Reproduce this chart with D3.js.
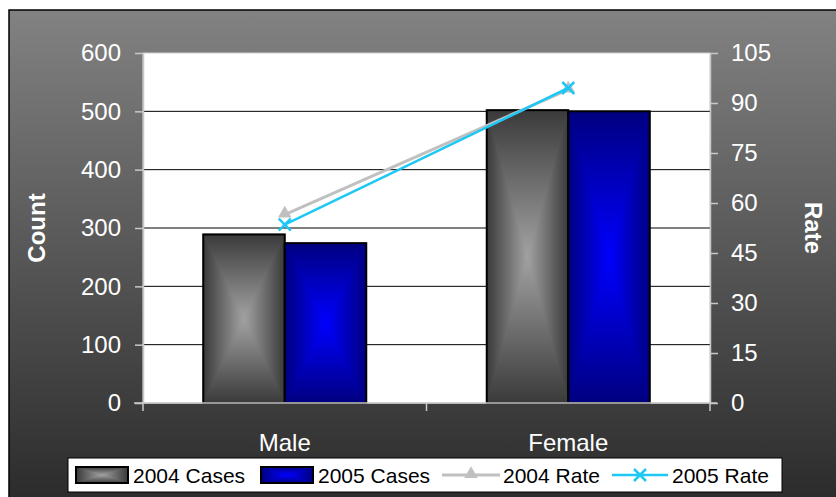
<!DOCTYPE html>
<html>
<head>
<meta charset="utf-8">
<script src="https://cdn.jsdelivr.net/npm/d3@7/dist/d3.min.js"></script>
<style>
  html, body { margin: 0; padding: 0; background: #ffffff; }
  svg { display: block; font-family: "Liberation Sans", Arial, sans-serif; }
</style>
</head>
<body>
<svg id="chart" width="836" height="497"></svg>
<script>
// Cases and rates by sex, 2004 vs 2005
const categories = ["Male", "Female"];
const cases2004 = [289, 502];
const cases2005 = [274, 500];
const rate2004 = [56.5, 94.0];
const rate2005 = [53.5, 94.5];
const countTicks = [0, 100, 200, 300, 400, 500, 600];
const rateTicks = [0, 15, 30, 45, 60, 75, 90, 105];
const legendLabels = ["2004 Cases", "2005 Cases", "2004 Rate", "2005 Rate"];

const svg = d3.select("#chart");
const W = 836, H = 497;
const plot = { left: 143, right: 710, top: 53, bottom: 403 };

const defs = svg.append("defs");

// background of the chart area
const bg = defs.append("linearGradient").attr("id", "bgGrad")
  .attr("x1", 0).attr("y1", 0).attr("x2", 0).attr("y2", 1);
bg.append("stop").attr("offset", 0).attr("stop-color", "#828282");
bg.append("stop").attr("offset", 1).attr("stop-color", "#2a2a2a");

// rectangular "from centre" gradient built out of four triangles
const palettes = {
  gray: { edge: "#3a3a3a", center: "#a2a2a2", mid: "#6a6a6a" },
  blue: { edge: "#000080", center: "#0000ff", mid: "#0000b8" }
};
Object.entries(palettes).forEach(([name, p]) => {
  const dirs = {
    L: [0, 0, 1, 0], R: [1, 0, 0, 0], T: [0, 0, 0, 1], B: [0, 1, 0, 0]
  };
  Object.entries(dirs).forEach(([k, [x1, y1, x2, y2]]) => {
    const g = defs.append("linearGradient").attr("id", `${name}${k}`)
      .attr("x1", x1).attr("y1", y1).attr("x2", x2).attr("y2", y2);
    g.append("stop").attr("offset", 0).attr("stop-color", p.edge);
    g.append("stop").attr("offset", 1).attr("stop-color", p.center);
  });
});

function shadedBox(g, x, y, w, h, name, strokeW) {
  const cx = x + w / 2, cy = y + h / 2;
  const box = g.append("g");
  box.append("rect").attr("x", x).attr("y", y).attr("width", w).attr("height", h)
    .attr("fill", palettes[name].mid);
  const tri = [
    ["L", [[x, y], [cx, cy], [x, y + h]]],
    ["R", [[x + w, y], [cx, cy], [x + w, y + h]]],
    ["T", [[x, y], [x + w, y], [cx, cy]]],
    ["B", [[x, y + h], [x + w, y + h], [cx, cy]]]
  ];
  tri.forEach(([k, pts]) => {
    box.append("polygon").attr("points", pts.map(p => p.join(",")).join(" "))
      .attr("fill", `url(#${name}${k})`)
      .attr("stroke", `url(#${name}${k})`).attr("stroke-width", 0.6);
  });
  box.append("rect").attr("x", x).attr("y", y).attr("width", w).attr("height", h)
    .attr("fill", "none").attr("stroke", "#000").attr("stroke-width", strokeW);
  return box;
}

// chart area
svg.append("rect").attr("x", 9).attr("y", 10).attr("width", W).attr("height", H)
  .attr("fill", "url(#bgGrad)").attr("stroke", "#000").attr("stroke-width", 1.5);

// plot area
svg.append("rect").attr("x", plot.left).attr("y", plot.top)
  .attr("width", plot.right - plot.left).attr("height", plot.bottom - plot.top)
  .attr("fill", "#ffffff").attr("stroke", "#d0d0d0").attr("stroke-width", 1);

// scales
const x = d3.scaleBand().domain(categories).range([plot.left, plot.right]).padding(0);
const groupW = x.bandwidth() * 0.575;
const xs = d3.scaleBand().domain(["2004", "2005"]).range([0, groupW]);
const yCount = d3.scaleLinear().domain([0, 600]).range([plot.bottom, plot.top]);
const yRate = d3.scaleLinear().domain([0, 105]).range([plot.bottom, plot.top]);

// gridlines
svg.append("g").selectAll("line").data(countTicks.filter(t => t > 0 && t < 600)).join("line")
  .attr("x1", plot.left).attr("x2", plot.right)
  .attr("y1", d => yCount(d)).attr("y2", d => yCount(d))
  .attr("stroke", "#000").attr("stroke-width", 1);

// bars
const barsG = svg.append("g");
categories.forEach((c, i) => {
  const gx = x(c) + (x.bandwidth() - groupW) / 2;
  [["2004", cases2004[i], "gray"], ["2005", cases2005[i], "blue"]].forEach(([s, v, pal]) => {
    const bx = gx + xs(s);
    shadedBox(barsG, bx, yCount(v), xs.bandwidth(), yCount(0) - yCount(v), pal, 2);
  });
});

// axes
const axisColor = "#c8c8c8";
function styleAxis(g) {
  g.select(".domain").attr("stroke", axisColor).attr("stroke-width", 1.5);
  g.selectAll(".tick line").attr("stroke", axisColor).attr("stroke-width", 1.5);
  g.selectAll(".tick text").attr("fill", "#ffffff").style("font-size", "24px")
    .style("font-family", "'Liberation Sans', Arial, sans-serif");
}

const leftAxis = svg.append("g").attr("transform", `translate(${plot.left},0)`)
  .call(d3.axisLeft(yCount).tickValues(countTicks).tickSize(8).tickSizeOuter(0).tickPadding(14));
styleAxis(leftAxis);

const rightAxis = svg.append("g").attr("transform", `translate(${plot.right},0)`)
  .call(d3.axisRight(yRate).tickValues(rateTicks).tickSize(8).tickSizeOuter(0).tickPadding(13));
styleAxis(rightAxis);

const bottomAxis = svg.append("g").attr("transform", `translate(0,${plot.bottom})`)
  .call(d3.axisBottom(x).tickSize(0).tickSizeOuter(0));
styleAxis(bottomAxis);
bottomAxis.select(".domain").attr("d", `M${plot.left - 9},0H${plot.right + 7}`);
bottomAxis.selectAll(".tick text").attr("y", 48).attr("dy", 0);
// category boundary ticks
const bounds = categories.map(c => x(c)).concat([x(categories[categories.length - 1]) + x.bandwidth()]);
bottomAxis.selectAll(".bound").data(bounds).join("line").attr("class", "bound")
  .attr("x1", d => d).attr("x2", d => d).attr("y1", 0).attr("y2", 8)
  .attr("stroke", axisColor).attr("stroke-width", 1.5);

// axis titles
svg.append("text").attr("transform", "translate(36,228) rotate(-90)")
  .attr("text-anchor", "middle").attr("dominant-baseline", "central")
  .attr("fill", "#fff").style("font-weight", "bold").style("font-size", "24px").text("Count");
svg.append("text").attr("transform", "translate(813,228) rotate(90)")
  .attr("text-anchor", "middle").attr("dominant-baseline", "central")
  .attr("fill", "#fff").style("font-weight", "bold").style("font-size", "24px").text("Rate");

// rate lines
const cx = c => x(c) + x.bandwidth() / 2;
const line2004 = d3.line().x((d, i) => cx(categories[i])).y(d => yRate(d));
const c2004 = "#c0c0c0", c2005 = "#1ec8f5";
const triangle = d3.symbol().type(d3.symbolTriangle).size(80);

function drawX(g, px, py, r, color) {
  g.append("path").attr("d", `M${px - r},${py - r}L${px + r},${py + r}M${px - r},${py + r}L${px + r},${py - r}`)
    .attr("stroke", color).attr("stroke-width", 2.5).attr("fill", "none");
}

const linesG = svg.append("g");
linesG.append("path").datum(rate2004).attr("d", line2004)
  .attr("fill", "none").attr("stroke", c2004).attr("stroke-width", 3);
rate2004.forEach((v, i) => {
  linesG.append("path").attr("d", triangle)
    .attr("transform", `translate(${cx(categories[i])},${yRate(v) - 1})`).attr("fill", c2004);
});
linesG.append("path").datum(rate2005).attr("d", line2004)
  .attr("fill", "none").attr("stroke", c2005).attr("stroke-width", 2.5);
rate2005.forEach((v, i) => drawX(linesG, cx(categories[i]), yRate(v), 6, c2005));

// legend
const lg = svg.append("g");
lg.append("rect").attr("x", 68).attr("y", 458).attr("width", 714).attr("height", 34)
  .attr("fill", "#fff").attr("stroke", "#000").attr("stroke-width", 1);
const ly = 475;
const legendItems = [
  { kind: "box", pal: "gray", sx: 76, sw: 52, tx: 133 },
  { kind: "box", pal: "blue", sx: 261, sw: 52, tx: 318 },
  { kind: "tri", color: c2004, sx: 442, sw: 58, tx: 503 },
  { kind: "x", color: c2005, sx: 612, sw: 56, tx: 672 }
];
legendItems.forEach((it, i) => {
  if (it.kind === "box") {
    shadedBox(lg, it.sx, ly - 8, it.sw, 16, it.pal, 2);
  } else {
    lg.append("line").attr("x1", it.sx).attr("x2", it.sx + it.sw).attr("y1", ly).attr("y2", ly)
      .attr("stroke", it.color).attr("stroke-width", it.kind === "tri" ? 3 : 2.5);
    const mx = it.sx + it.sw / 2;
    if (it.kind === "tri") {
      lg.append("path").attr("d", triangle).attr("transform", `translate(${mx},${ly - 1})`).attr("fill", it.color);
    } else {
      drawX(lg, mx, ly, 6, it.color);
    }
  }
  lg.append("text").attr("x", it.tx).attr("y", ly).attr("dominant-baseline", "central")
    .attr("fill", "#000").style("font-size", "21px").text(legendLabels[i]);
});
</script>
</body>
</html>
